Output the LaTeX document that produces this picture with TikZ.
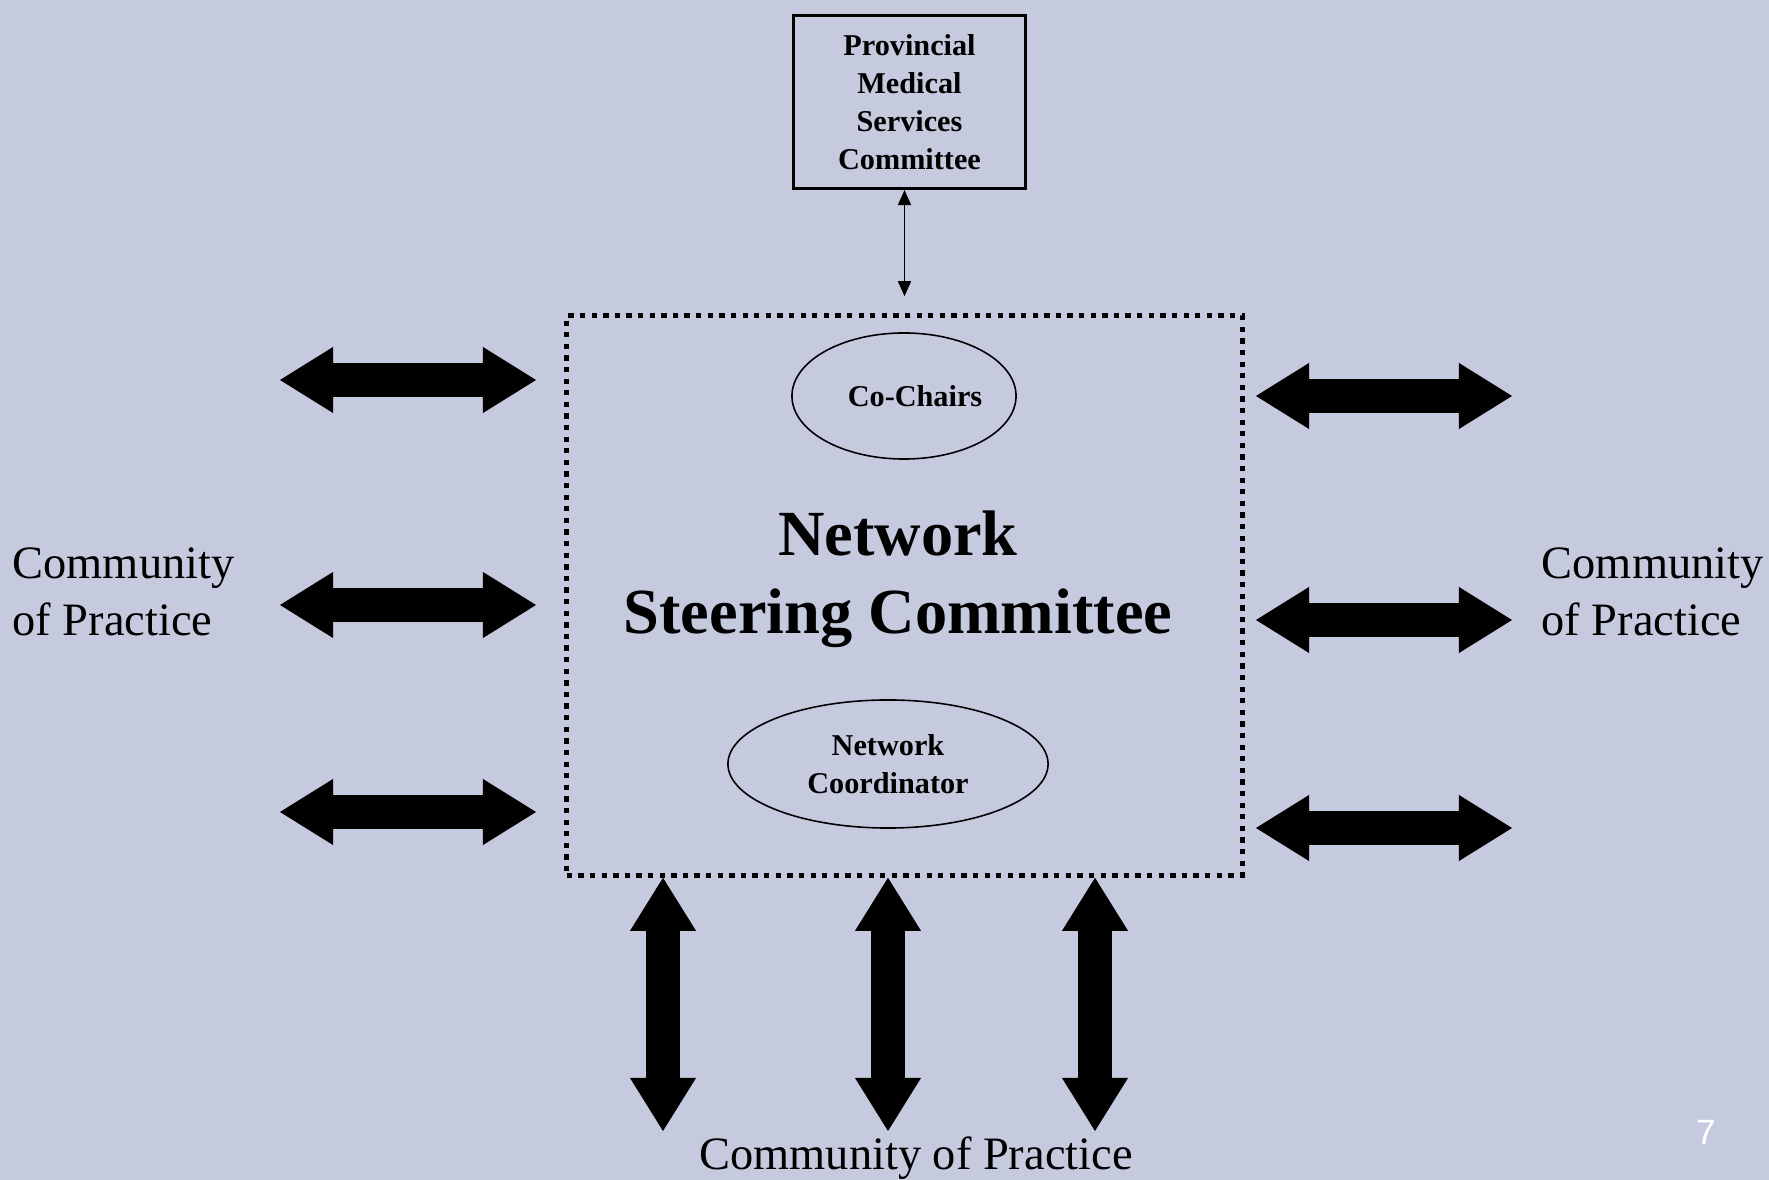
\documentclass[tikz,border=0pt]{standalone}
\usepackage{fontspec}
\setmainfont{Liberation Serif}
\newfontfamily\pagenumfont{Liberation Sans}
\usetikzlibrary{arrows.meta,shapes.geometric}
\definecolor{slidebg}{RGB}{197,202,223}
\begin{document}
\begin{tikzpicture}[x=0.01cm, y=-0.01cm,
  block node/.style={rectangle,draw,line width=0.85pt,minimum width=2.32cm,minimum height=1.73cm,inner sep=0pt,align=center,font=\bfseries\fontsize{8.6}{10.8}\selectfont},
  oval node/.style={ellipse,draw,line width=0.45pt,inner sep=0pt,align=center,font=\bfseries\fontsize{8.6}{10.8}\selectfont},
  dotted node/.style={rectangle,draw,line width=1.5pt,dash pattern=on 1.5pt off 1.8pt,minimum width=6.75cm,minimum height=5.59cm,inner sep=0pt},
  big arrow/.style={line width=0.34cm,{Triangle[length=0.53cm,width=0.66cm,line width=0pt]}-{Triangle[length=0.53cm,width=0.66cm,line width=0pt]}},
  thin arrow/.style={line width=0.45pt,{Triangle[length=0.15cm,width=0.13cm]}-{Triangle[length=0.15cm,width=0.13cm]}},
  cop text/.style={align=left,inner sep=0pt,font=\fontsize{13.2}{16.4}\selectfont}]
\fill[slidebg] (0,0) rectangle (1769,1180);
\useasboundingbox (0,0) rectangle (1769,1180);
% nodes
\node[block node] (pmsc) at (909.5,102) {Provincial\\Medical\\Services\\Committee};
\node[dotted node] (nsc) at (904.5,595.5) {};
\node[oval node,minimum width=2.24cm,minimum height=1.26cm] (chairs) at (904,396) {\hspace*{0.22cm}Co-Chairs};
\node[font=\bfseries\fontsize{18.3}{22.2}\selectfont,align=center] (title) at (898,579) {Network\\Steering Committee};
\node[oval node,minimum width=3.2cm,minimum height=1.28cm] (coord) at (888,764) {Network\\Coordinator};
\node[cop text,anchor=west] (copl) at (12,592) {Community\\of Practice};
\node[cop text,anchor=west] (copr) at (1541,592) {Community\\of Practice};
\node[cop text,anchor=base] (copb) at (916,1170) {Community of Practice};
\node[font=\pagenumfont\fontsize{10}{12}\selectfont,text=white] (pagenum) at (1706,1132) {7};
% connectors
\draw[thin arrow,shorten >=0.17cm] (nsc.north |- pmsc.south) -- (nsc.north);
\foreach \y [count=\i] in {380,605,812}{
  \coordinate (la\i) at (280,\y);
  \coordinate (lb\i) at (536,\y);
  \draw[big arrow] (la\i) -- (lb\i);
}
\foreach \y [count=\i] in {396,620,828}{
  \coordinate (ra\i) at (1256,\y);
  \coordinate (rb\i) at (1512,\y);
  \draw[big arrow] (ra\i) -- (rb\i);
}
\foreach \x [count=\i] in {663,888,1095}{
  \coordinate (b\i) at (\x,1131);
  \draw[big arrow] (b\i |- nsc.south) -- (b\i);
}
\end{tikzpicture}
\end{document}
